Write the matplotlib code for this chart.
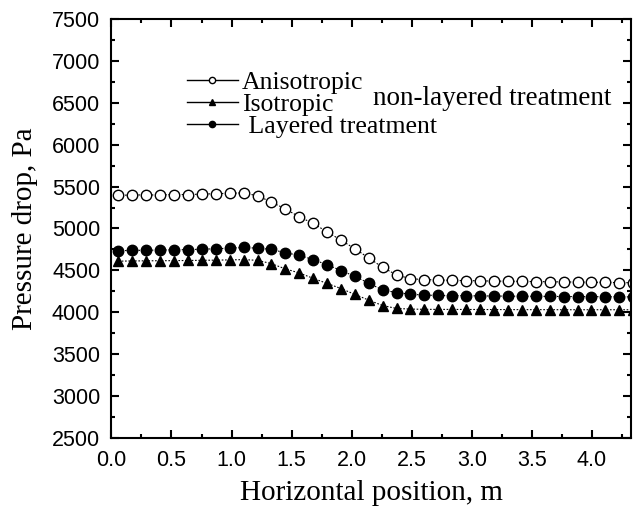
import matplotlib
matplotlib.use("Agg")
import matplotlib.pyplot as plt
from matplotlib.lines import Line2D
from matplotlib.ticker import MultipleLocator

# horizontal positions of the cell centres, m
x_pos = [0.058, 0.174, 0.289, 0.405, 0.521, 0.637, 0.753, 0.868, 0.984, 1.100,
         1.216, 1.332, 1.447, 1.563, 1.679, 1.795, 1.911, 2.026, 2.142, 2.258,
         2.374, 2.489, 2.605, 2.721, 2.837, 2.953, 3.068, 3.184, 3.300, 3.416,
         3.532, 3.647, 3.763, 3.879, 3.995, 4.111, 4.226, 4.342]

anisotropic = [5395, 5400, 5400, 5400, 5405, 5405, 5410, 5415, 5420, 5425,
               5390, 5315, 5233, 5140, 5060, 4960, 4860, 4758, 4648, 4535,
               4445, 4400, 4390, 4385, 4380, 4378, 4375, 4372, 4370, 4368,
               4366, 4364, 4362, 4360, 4358, 4356, 4354, 4352]

isotropic = [4610, 4612, 4614, 4615, 4616, 4618, 4620, 4622, 4625, 4628,
             4620, 4580, 4518, 4469, 4405, 4344, 4283, 4213, 4144, 4080,
             4045, 4038, 4035, 4034, 4034, 4033, 4033, 4032, 4032, 4031,
             4031, 4031, 4030, 4030, 4030, 4030, 4030, 4030]

layered = [4735, 4738, 4740, 4742, 4745, 4748, 4752, 4758, 4765, 4773,
           4765, 4750, 4710, 4680, 4628, 4567, 4498, 4428, 4347, 4265,
           4235, 4215, 4205, 4200, 4198, 4197, 4195, 4194, 4192, 4191,
           4190, 4189, 4188, 4187, 4186, 4185, 4184, 4183]

serif = "Liberation Serif"
sans = "Liberation Sans"

fig = plt.figure(figsize=(6.33, 5.14), dpi=100)
ax = fig.add_axes([0.176, 0.148, 0.821, 0.815])

line_kw = dict(color="black", linestyle=(0, (1.5, 1.5)), linewidth=0.8,
               markersize=7.5, markeredgewidth=1.0, markeredgecolor="black")

ax.plot(x_pos, anisotropic, marker="o", markerfacecolor="white", **line_kw)
ax.plot(x_pos, isotropic, marker="^", markerfacecolor="black", **line_kw)
ax.plot(x_pos, layered, marker="o", markerfacecolor="black", **line_kw)

ax.set_xlim(0, 4.325)
ax.set_ylim(2500, 7500)
ax.xaxis.set_minor_locator(MultipleLocator(0.25))
ax.yaxis.set_major_locator(MultipleLocator(500))
ax.yaxis.set_minor_locator(MultipleLocator(250))
ax.set_xticks([0, 0.5, 1.0, 1.5, 2.0, 2.5, 3.0, 3.5, 4.0])
ax.set_xticklabels(["0.0", "0.5", "1.0", "1.5", "2.0", "2.5", "3.0", "3.5", "4.0"])

ax.tick_params(which="both", direction="in", top=True, right=True, width=1.5)
ax.tick_params(which="major", length=6)
ax.tick_params(which="minor", length=3)
ax.tick_params(axis="both", labelsize=15.5)
ax.tick_params(axis="x", pad=9)
ax.tick_params(axis="y", pad=8)
for lab in ax.get_xticklabels() + ax.get_yticklabels():
    lab.set_family(sans)
for sp in ax.spines.values():
    sp.set_linewidth(1.5)

ax.set_xlabel("Horizontal position, m", family=serif, fontsize=21, labelpad=6)
ax.set_ylabel("Pressure drop, Pa", family=serif, fontsize=21, labelpad=10)

# legend with solid handles
handles = [
    Line2D([], [], color="black", linewidth=1.0, marker="o", markersize=4.5,
           markerfacecolor="white", markeredgecolor="black"),
    Line2D([], [], color="black", linewidth=1.0, marker="^", markersize=4.5,
           markerfacecolor="black", markeredgecolor="black"),
    Line2D([], [], color="black", linewidth=1.0, marker="o", markersize=4.5,
           markerfacecolor="black", markeredgecolor="black"),
]
labels = ["Anisotropic", "Isotropic", " Layered treatment"]
ax.legend(handles, labels, loc="upper left", bbox_to_anchor=(0.125, 0.9),
          frameon=False, prop={"family": serif, "size": 18.5},
          handlelength=2.0, handletextpad=0.15, labelspacing=-0.05,
          borderaxespad=0)

ax.text(0.503, 0.81, "non-layered treatment", transform=ax.transAxes,
        family=serif, fontsize=19.5, va="center", ha="left")

fig.savefig("out.png", dpi=100)
